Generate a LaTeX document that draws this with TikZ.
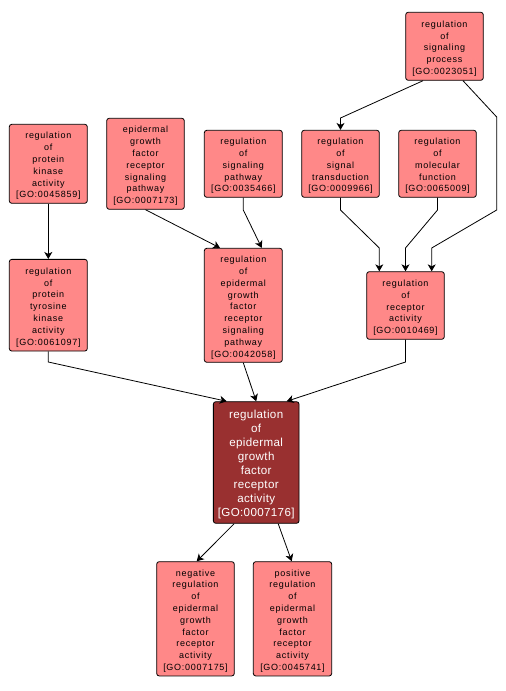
\documentclass[tikz,border=0pt]{standalone}
\usepackage{fontspec}
\newfontfamily\gofont{Liberation Sans}[LetterSpace=8]
\newfontfamily\gomainfont{Liberation Sans}[LetterSpace=3]
\usetikzlibrary{arrows.meta}
\definecolor{gofill}{RGB}{255,136,136}
\definecolor{godark}{RGB}{153,48,48}
\newcommand{\golines}[1]{\raisebox{-2.2pt}[\height][\depth]{\begin{tabular}{@{}c@{}}#1\end{tabular}}}
\begin{document}
\begin{tikzpicture}[x=1pt,y=-1pt,
  go/.style={draw=black, line width=0.8pt, rounded corners=2.5pt, fill=gofill,
    inner sep=0pt, font=\gofont\fontsize{9}{11.8}\selectfont},
  gomain/.style={go, fill=godark, text=white, font=\gomainfont\fontsize{11.6}{14}\selectfont},
  arr/.style={draw=black, line width=0.8pt, -{Stealth[length=7pt,width=8pt,inset=2pt]}}]
\fill[white] (0,0) rectangle (506,691);
\useasboundingbox (0,0) rectangle (506,691);

\node[go, minimum width=77.6pt, minimum height=68pt] (A) at (444.5,46.3)
  {\golines{regulation\\of\\signaling\\process\\{[}GO:0023051{]}}};
\node[go, minimum width=78pt, minimum height=79pt] (B) at (48.3,163.8)
  {\golines{regulation\\of\\protein\\kinase\\activity\\{[}GO:0045859{]}}};
\node[go, minimum width=77.6pt, minimum height=91pt] (C) at (145.5,163.8)
  {\golines{epidermal\\growth\\factor\\receptor\\signaling\\pathway\\{[}GO:0007173{]}}};
\node[go, minimum width=78pt, minimum height=67pt] (D) at (243.3,163.8)
  {\golines{regulation\\of\\signaling\\pathway\\{[}GO:0035466{]}}};
\node[go, minimum width=77.6pt, minimum height=67pt] (E) at (340.5,163.8)
  {\golines{regulation\\of\\signal\\transduction\\{[}GO:0009966{]}}};
\node[go, minimum width=77.6pt, minimum height=67pt] (F) at (437.5,163.8)
  {\golines{regulation\\of\\molecular\\function\\{[}GO:0065009{]}}};
\node[go, minimum width=78pt, minimum height=91.7pt] (G) at (48.3,305.2)
  {\golines{regulation\\of\\protein\\tyrosine\\kinase\\activity\\{[}GO:0061097{]}}};
\node[go, minimum width=78pt, minimum height=114pt] (H) at (243.3,305.3)
  {\golines{regulation\\of\\epidermal\\growth\\factor\\receptor\\signaling\\pathway\\{[}GO:0042058{]}}};
\node[go, minimum width=77.6pt, minimum height=67.6pt] (I) at (405.5,305.5)
  {\golines{regulation\\of\\receptor\\activity\\{[}GO:0010469{]}}};
\node[gomain, minimum width=85.7pt, minimum height=121.6pt] (J) at (256.2,462.5)
  {\golines{regulation\\of\\epidermal\\growth\\factor\\receptor\\activity\\{[}GO:0007176{]}}};
\node[go, minimum width=77.6pt, minimum height=114.3pt] (K) at (195.5,618.8)
  {\golines{negative\\regulation\\of\\epidermal\\growth\\factor\\receptor\\activity\\{[}GO:0007175{]}}};
\node[go, minimum width=78.4pt, minimum height=114.3pt] (L) at (292.5,618.8)
  {\golines{positive\\regulation\\of\\epidermal\\growth\\factor\\receptor\\activity\\{[}GO:0045741{]}}};

\draw[arr] ([xshift=-21.5pt]A.south) -- (E.north |- 0,118) -- (E.north);
\draw[arr] ([xshift=18.5pt]A.south) -- (496.7,117) -- (496.7,210) -- ([xshift=26.2pt]I.north |- 0,248) -- ([xshift=26.2pt]I.north);
\draw[arr] (E.south) -- (E.south |- 0,210) -- ([xshift=-26.2pt]I.north |- 0,248) -- ([xshift=-26.2pt]I.north);
\draw[arr] (F.south) -- (F.south |- 0,210) -- (I.north |- 0,248) -- (I.north);
\draw[arr] (D.south) -- (D.south |- 0,210) -- ([xshift=18.4pt]H.north);
\draw[arr] (C.south) -- ([xshift=-23.3pt]H.north);
\draw[arr] (B.south) -- (G.north);
\draw[arr] (G.south) -- (G.south |- 0,362) -- ([xshift=-29.5pt]J.north);
\draw[arr] (H.south) -- (J.north);
\draw[arr] (I.south) -- (I.south |- 0,362) -- ([xshift=30.5pt]J.north);
\draw[arr] ([xshift=-22pt]J.south) -- ([xshift=1.2pt]K.north);
\draw[arr] ([xshift=22pt]J.south) -- ([xshift=-0.8pt]L.north);
\end{tikzpicture}
\end{document}
